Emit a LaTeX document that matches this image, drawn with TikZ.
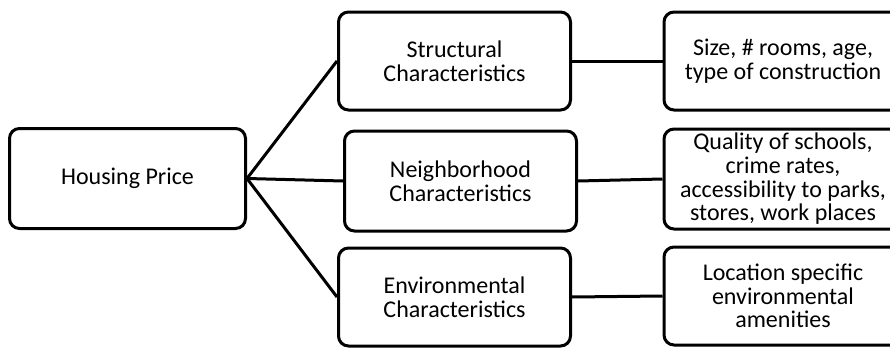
\documentclass[tikz,border=0pt]{standalone}
\usepackage{fontspec}
\setmainfont{Carlito}
\begin{document}
\begin{tikzpicture}[x=0.5pt, y=-0.5pt,
    box/.style={draw, line width=1.5pt, rounded corners=5pt, align=center,
        inner sep=1pt, minimum width=116pt, minimum height=49pt,
        font=\fontsize{12}{11.8}\selectfont},
    detail/.style={box, minimum width=119pt},
    link/.style={line width=1.5pt}]
            % Frame
            \clip (0,0) rectangle (890,348);

            % Root
            \node [box, minimum width=118pt, minimum height=50pt] (price) at (127.5,178.5) {Housing Price};

            % Groups
            \node [box] (structural) at (454.5,61) {Structural\\Characteristics};
            \node [box, minimum height=50pt] (neighborhood) at (460.5,181) {Neighborhood\\Characteristics};
            \node [box] (environmental) at (454.5,297) {Environmental\\Characteristics};

            % Details
            \node [detail] (size) at (783,61) {Size, \# rooms, age,\\type of construction};
            \node [detail, minimum height=50pt] (schools) at (783,179) {Quality of schools,\\crime rates,\\accessibility to parks,\\stores, work places};
            \node [detail] (amenities) at (783,296) {Location specific\\environmental\\amenities};

            % Lines
            \draw [link] (price.east) -- (structural.west);
            \draw [link] (price.east) -- (neighborhood.west);
            \draw [link] (price.east) -- (environmental.west);
            \draw [link] (structural.east) -- (size.west);
            \draw [link] (neighborhood.east) -- (schools.west);
            \draw [link] (environmental.east) -- (amenities.west);
        \end{tikzpicture}
\end{document}
